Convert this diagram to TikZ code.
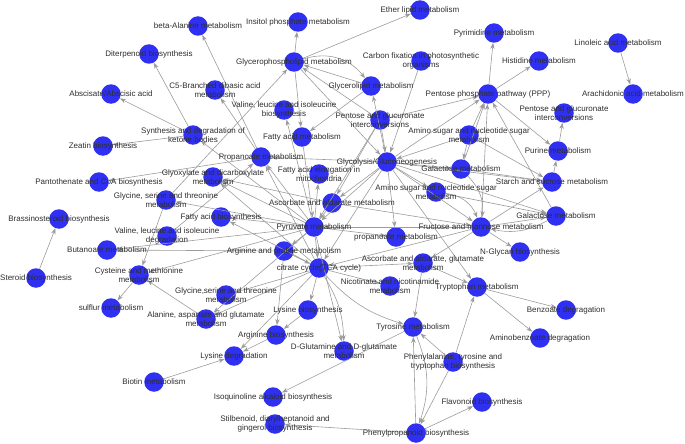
\documentclass[tikz,border=0pt]{standalone}
\usepackage{fontspec}
\setmainfont{Liberation Sans}
\usetikzlibrary{arrows.meta}
\definecolor{nodeblue}{RGB}{48,48,242}
\definecolor{edgegray}{RGB}{155,155,155}
\definecolor{txtgray}{RGB}{45,45,45}
\begin{document}
\begin{tikzpicture}[x=1pt,y=-1pt,
  mn/.style={circle,fill=nodeblue,minimum size=19.5pt,inner sep=0pt},
  lb/.style={font=\fontsize{8}{9.2}\selectfont,text=txtgray,align=center,inner sep=0pt},
  e/.style={draw=edgegray,line width=0.6pt,-{Stealth[length=6pt,width=4.4pt]}}]
\useasboundingbox (0,0) rectangle (685,444);
% ---------- circles ----------
\node[mn] (bala) at (198,26) {};
\node[mn] (insi) at (298,22) {};
\node[mn] (ethr) at (420,10) {};
\node[mn] (dite) at (149,54) {};
\node[mn] (gphl) at (294,62) {};
\node[mn] (carb) at (421,61) {};
\node[mn] (pyri) at (494,33) {};
\node[mn] (hist) at (539,61) {};
\node[mn] (lino) at (618,43) {};
\node[mn] (arac) at (633,94) {};
\node[mn] (ppp)  at (488,94) {};
\node[mn] (pgr)  at (564,113) {};
\node[mn] (glip) at (371,86) {};
\node[mn] (cfive) at (215,90) {};
\node[mn] (absc) at (111,94) {};
\node[mn] (vlbi) at (284,110) {};
\node[mn] (pgc)  at (380,120) {};
\node[mn] (fam)  at (302,137) {};
\node[mn] (synk) at (193,135) {};
\node[mn] (amst) at (469,135) {};
\node[mn] (puri) at (558,151) {};
\node[mn] (zeat) at (103,146) {};
\node[mn] (prop) at (261,157) {};
\node[mn] (glyc) at (387,162) {};
\node[mn] (galu) at (461,169) {};
\node[mn] (glyo) at (213,177) {};
\node[mn] (fael) at (319,174) {};
\node[mn] (star) at (552,182) {};
\node[mn] (amsc) at (436,192) {};
\node[mn] (pant) at (99,182) {};
\node[mn] (gsl)  at (166,200) {};
\node[mn] (asco) at (332,203) {};
\node[mn] (fabi) at (221,217) {};
\node[mn] (gall) at (556,216) {};
\node[mn] (bras) at (59,219) {};
\node[mn] (pyru) at (314,227) {};
\node[mn] (fruc) at (481,227) {};
\node[mn] (vldg) at (167,236) {};
\node[mn] (prol) at (396,237) {};
\node[mn] (buta) at (107,250) {};
\node[mn] (argp) at (284,251) {};
\node[mn] (ngly) at (520,252) {};
\node[mn] (citr) at (319,268) {};
\node[mn] (ascg) at (423,263) {};
\node[mn] (ster) at (36,278) {};
\node[mn] (cyst) at (139,275) {};
\node[mn] (nico) at (390,286) {};
\node[mn] (tryp) at (477,287) {};
\node[mn] (gsll) at (226,295) {};
\node[mn] (sulf) at (111,308) {};
\node[mn] (alan) at (206,319) {};
\node[mn] (lysb) at (308,310) {};
\node[mn] (benz) at (566,310) {};
\node[mn] (tyro) at (413,327) {};
\node[mn] (argb) at (276,335) {};
\node[mn] (amib) at (540,338) {};
\node[mn] (dglu) at (344,351) {};
\node[mn] (lysd) at (234,356) {};
\node[mn] (phen) at (453,362) {};
\node[mn] (biot) at (154,382) {};
\node[mn] (isoq) at (273,397) {};
\node[mn] (flav) at (482,402) {};
\node[mn] (stil) at (275,424) {};
\node[mn] (phpr) at (416,433) {};
% ---------- edges ----------
\foreach \a/\b in {prop/bala,synk/dite,synk/absc,synk/zeat,pyru/synk,gsl/gphl,gsl/cyst,
  prop/pant,prop/cfive,gphl/insi,gphl/ethr,glip/gphl,pgc/gphl,gphl/fam,glip/fam,gphl/glyc,
  carb/glyc,glyc/glip,pyru/vlbi,ppp/pyri,ppp/hist,ppp/puri,puri/pgr,lino/arac,gall/ppp,
  pgc/ppp,glyc/ppp,amst/ppp,galu/ppp,fruc/ppp,glyc/prol,glyc/galu,glyc/star,glyc/fruc,
  glyc/amsc,amst/glyc,pgc/glyc,glyc/pyru,glyc/asco,glyc/citr,glyc/prop,galu/star,amst/star,
  fruc/star,star/puri,fruc/gall,fruc/ngly,fruc/ascg,ascg/tryp,ascg/tyro,tryp/benz,tryp/amib,
  phen/tryp,phen/tyro,phen/phpr,phpr/tyro,phpr/flav,phpr/stil,tyro/isoq,pyru/dglu,citr/lysb,
  citr/gsll,citr/alan,pyru/alan,argp/argb,argb/lysd,lysb/argb,citr/lysd,biot/lysd,alan/cyst,
  cyst/sulf,ster/bras,pyru/buta,argp/buta,pyru/cyst,vldg/prop,pyru/glyo,citr/glyo,asco/glyo,
  pyru/fabi,citr/fabi,pyru/prop,citr/prop,pyru/citr,asco/pyru,pyru/fael,argp/citr,pyru/argp,
  citr/nico,citr/ascg,pyru/prol,fruc/pyru,fruc/citr,amsc/gall,glyc/gall,glyc/tryp,asco/fruc,
  pyru/gsl,fam/pyru,pgc/asco,pgc/pyru,amst/galu}
  \draw[e] (\a) -- (\b);
\draw[e] (gphl) to[bend left=35] (glip);
\draw[e] (tyro) to[bend left=20] (phpr);
\draw[e] (citr) to[bend left=15] (dglu);
\draw[e] (citr) to[bend right=15] (tyro);
\draw[e] (gall) to[bend left=20] (fruc);
\draw[e] (amsc) to[bend left=30] (fruc);
\draw[e] (galu) to[bend left=25] (fruc);
% ---------- labels ----------
\node[lb] (Lbala) at (bala) {beta-Alanine metabolism};
\node[lb] (Linsi) at (insi) {Insitol phosphate metabolism};
\node[lb] (Lethr) at (ethr) {Ether lipid metabolism};
\node[lb] (Ldite) at (dite) {Diterpenoid biosynthesis};
\node[lb] (Lgphl) at (gphl) {Glycerophospholipid metabolism};
\node[lb] (Lcarb) at (carb) {Carbon fixation in photosynthetic\\organisms};
\node[lb] (Lpyri) at (pyri) {Pyrimidine metabolism};
\node[lb] (Lhist) at (hist) {Histidine metabolism};
\node[lb] (Llino) at (lino) {Linoleic acid metabolism};
\node[lb] (Larac) at (arac) {Arachidonic acid metabolism};
\node[lb] (Lppp)  at (ppp)  {Pentose phosphate pathway (PPP)};
\node[lb] (Lpgr)  at (pgr)  {Pentose and glucuronate\\interconversions};
\node[lb] (Lglip) at (glip) {Glycerolipid metabolism};
\node[lb] (Lcfive) at (cfive) {C5-Branched dibasic acid\\metabolism};
\node[lb] (Labsc) at (absc) {Abscisate/Abscisic acid};
\node[lb] (Lvlbi) at (vlbi) {Valine, leucine and isoleucine\\biosynthesis};
\node[lb] (Lpgc)  at (pgc)  {Pentose and glucuronate\\interconversions};
\node[lb] (Lfam)  at (fam)  {Fatty acid metabolism};
\node[lb] (Lsynk) at (synk) {Synthesis and degradation of\\ketone bodies};
\node[lb] (Lamst) at (amst) {Amino sugar and nucleotide sugar\\metabolism};
\node[lb] (Lpuri) at (puri) {Purine metabolism};
\node[lb] (Lzeat) at (zeat) {Zeatin biosynthesis};
\node[lb] (Lprop) at (prop) {Propanoate metabolism};
\node[lb] (Lglyc) at (glyc) {Glycolysis/Gluconeogenesis};
\node[lb] (Lgalu) at (galu) {Galactose metabolism};
\node[lb] (Lglyo) at (glyo) {Glyoxylate and dicarboxylate\\metabolism};
\node[lb] (Lfael) at (fael) {Fatty acid elongation in\\mitochondria};
\node[lb] (Lstar) at (star) {Starch and sucrose metabolism};
\node[lb] (Lamsc) at (amsc) {Amino sugar and nucleotide sugar\\metabolism};
\node[lb] (Lpant) at (pant) {Pantothenate and CoA biosynthesis};
\node[lb] (Lgsl)  at (gsl)  {Glycine, serine and threonine\\metabolism};
\node[lb] (Lasco) at (asco) {Ascorbate and aldarate metabolism};
\node[lb] (Lfabi) at (fabi) {Fatty acid biosynthesis};
\node[lb] (Lgall) at (gall) {Galactose metabolism};
\node[lb] (Lbras) at (bras) {Brassinosteroid biosynthesis};
\node[lb] (Lpyru) at (pyru) {Pyruvate metabolism};
\node[lb] (Lfruc) at (fruc) {Fructose and mannose metabolism};
\node[lb] (Lvldg) at (vldg) {Valine, leucine and isoleucine\\degradation};
\node[lb] (Lprol) at (prol) {propanoate metabolism};
\node[lb] (Lbuta) at (buta) {Butanoate metabolism};
\node[lb] (Largp) at (argp) {Arginine and proline metabolism};
\node[lb] (Lngly) at (ngly) {N-Glycan biosynthesis};
\node[lb] (Lcitr) at (citr) {citrate cycle(TCA cycle)};
\node[lb] (Lascg) at (ascg) {Ascorbate and aldarate, glutamate\\metabolism};
\node[lb] (Lster) at (ster) {Steroid biosynthesis};
\node[lb] (Lcyst) at (cyst) {Cysteine and methionine\\metabolism};
\node[lb] (Lnico) at (nico) {Nicotinate and nicotinamide\\metabolism};
\node[lb] (Ltryp) at (tryp) {Tryptophan metabolism};
\node[lb] (Lgsll) at (gsll) {Glycine,serine and threonine\\metabolism};
\node[lb] (Lsulf) at (sulf) {sulflur metabolism};
\node[lb] (Lalan) at (alan) {Alanine, aspartate and glutamate\\metabolism};
\node[lb] (Llysb) at (lysb) {Lysine biosynthesis};
\node[lb] (Lbenz) at (benz) {Benzoate degragation};
\node[lb] (Ltyro) at (tyro) {Tyrosine metabolism};
\node[lb] (Largb) at (argb) {Arginine biosynthesis};
\node[lb] (Lamib) at (amib) {Aminobenzoate degragation};
\node[lb] (Ldglu) at (dglu) {D-Glutamine and D-glutamate\\metabolism};
\node[lb] (Llysd) at (lysd) {Lysine degradation};
\node[lb] (Lphen) at (phen) {Phenylalanine, tyrosine and\\tryptophan biosynthesis};
\node[lb] (Lbiot) at (biot) {Biotin metabolism};
\node[lb] (Lisoq) at (isoq) {Isoquinoline alkaloid biosynthesis};
\node[lb] (Lflav) at (flav) {Flavonoid biosynthesis};
\node[lb] (Lstil) at (stil) {Stilbenoid, diarylheptanoid and\\gingerol biosynthesis};
\node[lb] (Lphpr) at (phpr) {Phenylpropanoid biosynthesis};
\end{tikzpicture}
\end{document}
